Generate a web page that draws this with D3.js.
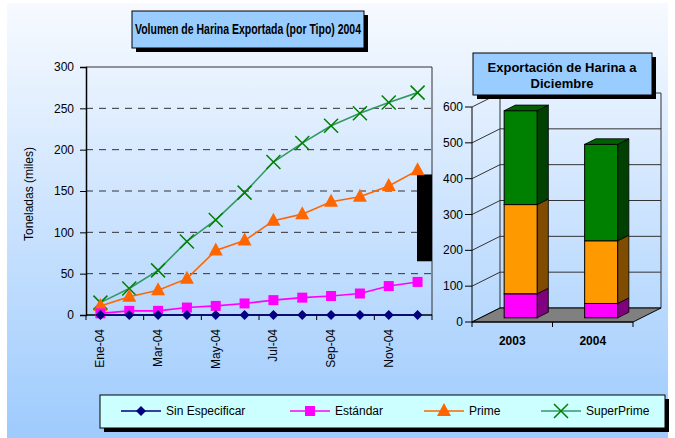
<!DOCTYPE html>
<html lang="es">
<head>
  <title>Volumen de Harina Exportada</title>
  <meta charset="utf-8">
  <style>
    body { margin: 0; background: #fff; }
    svg text { font-family: "Liberation Sans", Arial, sans-serif; fill: #000; }
  </style>
  <script src="https://d3js.org/d3.v7.min.js"></script>
</head>
<body>
<svg width="675" height="438"></svg>
<script>
// monthly cumulative exports 2004 (thousand tonnes)
var months = ["Ene-04","Feb-04","Mar-04","Abr-04","May-04","Jun-04","Jul-04","Ago-04","Sep-04","Oct-04","Nov-04","Dic-04"];
var sinEspecificar = [0,0,0,0,0,0,0,0,0,0,0,0];
var estandar = [2,5,5,9,11,14,18,21,23,26,35,40];
var prime = [11,22,30,44,78,90,114,122,137,143,156,175];
var superPrime = [15,32,54,89,115,148,185,208,229,244,257,269];
var yTicks = [0,50,100,150,200,250,300];

// december totals per year
var years = ["2003","2004"];
var dicSinEspecificar = [0,0];
var dicEstandar = [67,40];
var dicPrime = [249,175];
var dicSuperPrime = [262,269];
var barTicks = [0,100,200,300,400,500,600];

var svg = d3.select("svg");

// background gradient
var defs = svg.append("defs");
var grad = defs.append("linearGradient").attr("id","bg").attr("x1",0).attr("y1",0).attr("x2",0).attr("y2",1);
grad.append("stop").attr("offset","0%").attr("stop-color","#f7faff");
grad.append("stop").attr("offset","100%").attr("stop-color","#9ecbfd");
svg.append("rect").attr("x",7).attr("y",3).attr("width",661).attr("height",435).attr("fill","url(#bg)");

function shadowBox(x, y, w, h, fill) {
  svg.append("rect").attr("x",x+4).attr("y",y+4).attr("width",w).attr("height",h).attr("fill","#000");
  svg.append("rect").attr("x",x).attr("y",y).attr("width",w).attr("height",h)
     .attr("fill",fill).attr("stroke","#000").attr("stroke-width",1);
}

// ---------- line chart ----------
var x = d3.scaleBand().domain(months).range([86,432]);
var y = d3.scaleLinear().domain([0,300]).range([315,67]);
var cx = function(d, i) { return x(months[i]) + x.bandwidth()/2; };

var g = svg.append("g");

g.selectAll(".grid").data(yTicks.filter(function(d){ return d > 0 && d < 300; }))
  .enter().append("line")
  .attr("x1",86).attr("x2",432)
  .attr("y1",function(d){ return y(d); }).attr("y2",function(d){ return y(d); })
  .attr("stroke","#333").attr("stroke-dasharray","7,6");

// plot border top/right
g.append("path").attr("d","M86," + y(300) + "H432V" + y(0))
  .attr("fill","none").attr("stroke","#333").attr("stroke-width",1);

// black block at right edge
g.append("rect").attr("x",417).attr("width",15)
  .attr("y",y(170)).attr("height",y(65)-y(170)).attr("fill","#000");

// y axis
var yAxis = g.append("g").attr("transform","translate(86,0)")
  .call(d3.axisLeft(y).tickValues(yTicks).tickSize(6).tickPadding(6));
yAxis.select(".domain").attr("stroke","#000").attr("stroke-width",1.5);
yAxis.selectAll("text").style("font-size","12px").attr("fill","#000");

// x axis ticks every two months
var xt = g.append("g");
xt.append("line").attr("x1",86).attr("x2",432).attr("y1",y(0)).attr("y2",y(0)).attr("stroke","#000").attr("stroke-width",1.5);
months.forEach(function(m, i) {
  if (i % 2 === 0) {
    xt.append("line").attr("x1",x(m)).attr("x2",x(m)).attr("y1",y(0)).attr("y2",y(0)+5).attr("stroke","#000");
    xt.append("text")
      .attr("transform","translate(" + (x(m) + x.bandwidth()/2 + 4) + ",329) rotate(-90)")
      .attr("text-anchor","end").style("font-size","12px").text(m);
  }
});
xt.append("line").attr("x1",432).attr("x2",432).attr("y1",y(0)).attr("y2",y(0)+5).attr("stroke","#000");

svg.append("text").attr("transform","translate(33,194) rotate(-90)")
  .attr("text-anchor","middle").style("font-size","12px").text("Toneladas (miles)");

var series = [
  {name:"SuperPrime", values: superPrime, line:"#339966", marker:"x", color:"#008000"},
  {name:"Prime", values: prime, line:"#ff6600", marker:"tri", color:"#ff6600"},
  {name:"Estándar", values: estandar, line:"#ff00ff", marker:"sq", color:"#ff00ff"},
  {name:"Sin Especificar", values: sinEspecificar, line:"#000080", marker:"dia", color:"#000080"}
];

function drawMarker(sel, type, color) {
  if (type === "x") {
    sel.append("path").attr("d","M-7,-7L7,7M-7,7L7,-7").attr("stroke",color).attr("stroke-width",1.5).attr("fill","none");
  } else if (type === "tri") {
    sel.append("path").attr("d","M0,-8L7,5H-7Z").attr("fill",color);
  } else if (type === "sq") {
    sel.append("rect").attr("x",-5).attr("y",-5).attr("width",10).attr("height",10).attr("fill",color);
  } else {
    sel.append("path").attr("d","M0,-5L5,0L0,5L-5,0Z").attr("fill",color);
  }
}

var line = d3.line().x(cx).y(function(d){ return y(d); });

series.forEach(function(s) {
  g.append("path").datum(s.values).attr("d",line)
    .attr("fill","none").attr("stroke",s.line).attr("stroke-width",1.6);
  s.values.forEach(function(v, i) {
    var m = g.append("g").attr("transform","translate(" + cx(v,i) + "," + y(v) + ")");
    drawMarker(m, s.marker, s.color);
  });
});

// title 1
shadowBox(132,11,232,37,"#99ccff");
svg.append("text").attr("x",248).attr("y",34).attr("text-anchor","middle")
  .attr("textLength",226).attr("lengthAdjust","spacingAndGlyphs")
  .style("font-size","14px").style("font-weight","bold")
  .text("Volumen de Harina Exportada (por Tipo) 2004");

// ---------- 3D stacked bars ----------
var bx = d3.scaleBand().domain(years).range([472,633]);
var by = d3.scaleLinear().domain([0,600]).range([322,107]);
var DX = 28, DY = -14;
var f1 = 0.3, f2 = 0.7, barW = 33;

var b = svg.append("g");
// walls gridlines
barTicks.forEach(function(t) {
  var yy = by(t);
  b.append("path").attr("d","M472," + yy + "L" + (472+DX) + "," + (yy+DY) + "H" + (633+DX))
    .attr("fill","none").attr("stroke","#333").attr("stroke-width",1);
  b.append("line").attr("x1",465).attr("x2",472).attr("y1",yy).attr("y2",yy).attr("stroke","#000");
  b.append("text").attr("x",463).attr("y",yy+4).attr("text-anchor","end").style("font-size","12px").text(t);
});
b.append("line").attr("x1",472+DX).attr("x2",472+DX).attr("y1",by(0)+DY).attr("y2",by(600)+DY).attr("stroke","#333");
b.append("line").attr("x1",633+DX).attr("x2",633+DX).attr("y1",by(0)+DY).attr("y2",by(600)+DY).attr("stroke","#333");
b.append("line").attr("x1",472).attr("x2",472).attr("y1",by(0)).attr("y2",by(600)).attr("stroke","#000");

// floor
b.append("path").attr("d","M472," + by(0) + "H633L" + (633+DX) + "," + (by(0)+DY) + "H" + (472+DX) + "Z")
  .attr("fill","#808080").attr("stroke","#000");
b.append("line").attr("x1",472).attr("x2",633).attr("y1",by(0)).attr("y2",by(0)).attr("stroke","#000");
[472,552.5,633].forEach(function(t) {
  b.append("line").attr("x1",t).attr("x2",t).attr("y1",by(0)).attr("y2",by(0)+5).attr("stroke","#000");
});

var stackSeries = [
  {vals: dicSinEspecificar, front:"#000080", side:"#000040", top:"#000060"},
  {vals: dicEstandar, front:"#ff00ff", side:"#800080", top:"#b000b0"},
  {vals: dicPrime, front:"#ff9900", side:"#7f4c00", top:"#b36b00"},
  {vals: dicSuperPrime, front:"#008000", side:"#004000", top:"#006000"}
];

years.forEach(function(yr, i) {
  var x0 = bx(yr) + bx.bandwidth()/2 + DX*f1 - barW/2;
  var x1 = x0 + barW;
  var ox = DX*f1, oy = DY*f1;
  var sdx = DX*(f2-f1), sdy = DY*(f2-f1);
  var base = 0;
  stackSeries.forEach(function(s, k) {
    var v = s.vals[i];
    if (v <= 0) return;
    var yb = by(base) + oy, yt = by(base+v) + oy;
    b.append("path").attr("d","M" + x1 + "," + yb + "L" + (x1+sdx) + "," + (yb+sdy) + "V" + (yt+sdy) + "L" + x1 + "," + yt + "Z")
      .attr("fill",s.side).attr("stroke","#000").attr("stroke-width",0.8);
    b.append("rect").attr("x",x0).attr("y",yt).attr("width",barW).attr("height",yb-yt)
      .attr("fill",s.front).attr("stroke","#000").attr("stroke-width",1);
    base += v;
    if (k === stackSeries.length-1) {
      b.append("path").attr("d","M" + x0 + "," + yt + "H" + x1 + "L" + (x1+sdx) + "," + (yt+sdy) + "H" + (x0+sdx) + "Z")
        .attr("fill",s.top).attr("stroke","#000").attr("stroke-width",0.8);
    }
  });
  b.append("text").attr("x",bx(yr) + bx.bandwidth()/2).attr("y",345).attr("text-anchor","middle")
    .style("font-size","12px").style("font-weight","bold").text(yr);
});

// title 2
shadowBox(473,53,179,42,"#99ccff");
svg.append("text").attr("x",562).attr("y",72).attr("text-anchor","middle")
  .style("font-size","13px").style("font-weight","bold").text("Exportación de Harina a");
svg.append("text").attr("x",562).attr("y",88).attr("text-anchor","middle")
  .style("font-size","13px").style("font-weight","bold").text("Diciembre");

// ---------- legend ----------
shadowBox(100,395,565,33,"#ccffff");
var legendItems = [
  {s: series[3], x:121},
  {s: series[2], x:290},
  {s: series[1], x:424},
  {s: series[0], x:541}
];
legendItems.forEach(function(it) {
  var lg = svg.append("g").attr("transform","translate(" + it.x + ",411)");
  lg.append("line").attr("x1",0).attr("x2",40).attr("stroke",it.s.line).attr("stroke-width",1.6);
  var m = lg.append("g").attr("transform","translate(20,0)");
  drawMarker(m, it.s.marker, it.s.color);
  lg.append("text").attr("x",45).attr("y",4).style("font-size","12px").text(it.s.name);
});
</script>
</body>
</html>
